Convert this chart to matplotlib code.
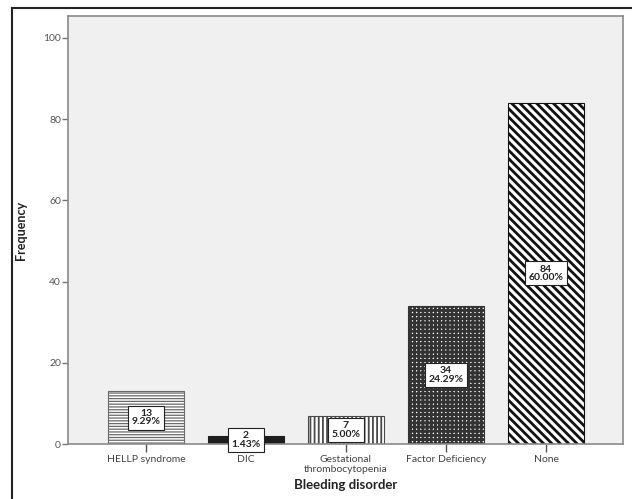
import matplotlib
matplotlib.use("Agg")
import matplotlib.pyplot as plt
from matplotlib.lines import Line2D

categories = ["HELLP syndrome", "DIC", "Gestational\nthrombocytopenia",
              "Factor Deficiency", "None"]
counts = [13, 2, 7, 34, 84]
y_ticks = [0, 20, 40, 60, 80, 100]

total = sum(counts)

plt.rcParams['font.family'] = ['Lato', 'DejaVu Sans']

W, H = 632, 499
fig = plt.figure(figsize=(W / 100, H / 100), dpi=100)
fig.patch.set_facecolor("white")

# plot area in pixel coordinates
left, right, top, bottom = 68, 623, 16, 444
ax = fig.add_axes([left / W, 1 - bottom / H, (right - left) / W, (bottom - top) / H])
ax.set_facecolor("#eff0ef")

styles = [
    dict(facecolor="white", edgecolor="#6a6a6a", hatch="------", hlw=0.9),
    dict(facecolor="#1e1e1e", edgecolor="#1e1e1e", hatch=None, hlw=1.0),
    dict(facecolor="white", edgecolor="#4a4a4a", hatch="||||", hlw=1.3),
    dict(facecolor="white", edgecolor="#333333", hatch="++++", hlw=2.0),
    dict(facecolor="white", edgecolor="#111111", hatch="\\\\\\\\", hlw=2.0),
]

x = list(range(len(categories)))
bars = ax.bar(x, counts, width=0.76, zorder=2)
for b, st in zip(bars, styles):
    b.set_facecolor(st["facecolor"])
    b.set_edgecolor(st["edgecolor"])
    b.set_linewidth(0.8)
    if st["hatch"]:
        b.set_hatch(st["hatch"])
        if hasattr(b, "set_hatch_linewidth"):
            b.set_hatch_linewidth(st["hlw"])

for xi, c in zip(x, counts):
    pct = c / total * 100
    ax.text(xi, c / 2, f"{c}\n{pct:.2f}%", ha="center", va="center",
            fontsize=7.5, fontweight="bold", color="#222222",
            linespacing=0.95, zorder=5, clip_on=False,
            bbox=dict(boxstyle="square,pad=0.3", facecolor="white",
                      edgecolor="#222222", linewidth=0.8))

ax.set_xlim(-0.78, 4.77)
ax.set_ylim(0, 105.4)
ax.set_yticks(y_ticks)
ax.set_xticks(x)
ax.set_xticklabels(categories, fontsize=7.5, color="#444444", linespacing=1.1)
ax.tick_params(axis="y", labelsize=7.5, labelcolor="#555555", length=4,
               width=1, color="#777777", pad=1)
ax.tick_params(axis="x", length=6, width=1, color="#555555", pad=2)

for s in ax.spines.values():
    s.set_color("#8a8a8a")
    s.set_linewidth(1.2)

ax.set_ylabel("Frequency", fontsize=9, fontweight="bold", color="#222222",
              labelpad=12)
ax.set_xlabel("Bleeding disorder", fontsize=9.5, fontweight="bold",
              color="#222222", labelpad=4)

# outer frame around the whole chart
fig.add_artist(Line2D([12 / W, 12 / W], [0, 1 - 8 / H], color="#222222",
                      linewidth=1.5, transform=fig.transFigure))
fig.add_artist(Line2D([12 / W, 1], [1 - 8 / H, 1 - 8 / H], color="#222222",
                      linewidth=1.5, transform=fig.transFigure))

fig.savefig("out.png", dpi=100)
